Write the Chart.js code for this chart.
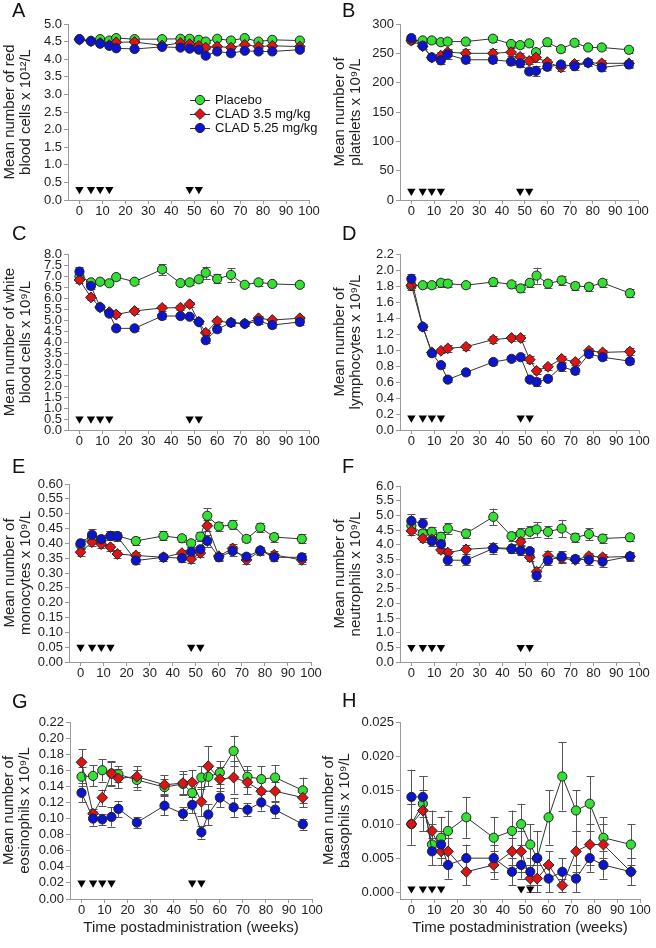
<!DOCTYPE html>
<html>
<head>
<meta charset="utf-8">
<script src="https://cdn.jsdelivr.net/npm/chart.js@4.4.1/dist/chart.umd.min.js"></script>
<style>
  body { margin: 0; background: #fff; }
  #wrap { position: relative; width: 656px; height: 948px; overflow: hidden; font-family: "Liberation Sans", Arial, sans-serif; }
  #wrap canvas { position: absolute; }
  .lbl { position: absolute; font-size: 20px; line-height: 1; color: #111; }
</style>
</head>
<body>
<div id="wrap">
  <canvas id="cA"></canvas><canvas id="cB"></canvas>
  <canvas id="cC"></canvas><canvas id="cD"></canvas>
  <canvas id="cE"></canvas><canvas id="cF"></canvas>
  <canvas id="cG"></canvas><canvas id="cH"></canvas>
  <div class="lbl" style="left:12px;top:0px">A</div>
  <div class="lbl" style="left:342px;top:0px">B</div>
  <div class="lbl" style="left:12px;top:223px">C</div>
  <div class="lbl" style="left:342px;top:223px">D</div>
  <div class="lbl" style="left:12px;top:456px">E</div>
  <div class="lbl" style="left:342px;top:456px">F</div>
  <div class="lbl" style="left:12px;top:691px">G</div>
  <div class="lbl" style="left:342px;top:690px">H</div>
</div>
<script>
// --- DATA ---
const weeks = [0, 5, 9, 13, 16, 24, 36, 44, 48, 52, 55, 60, 66, 72, 78, 84, 96];
const doseWeeks = [0, 5, 9, 13, 48, 52];
const seriesNames = ['Placebo', 'CLAD 3.5 mg/kg', 'CLAD 5.25 mg/kg'];
const xTicks = [0, 10, 20, 30, 40, 50, 60, 70, 80, 90, 100];
const xTitle = 'Time postadministration (weeks)';

// A - red blood cells
const aTicks = [0, 0.5, 1, 1.5, 2, 2.5, 3, 3.5, 4, 4.5, 5];
const aPlacebo = [4.56, 4.52, 4.57, 4.53, 4.60, 4.57, 4.57, 4.58, 4.58, 4.55, 4.50, 4.58, 4.53, 4.60, 4.50, 4.55, 4.53];
const aPlaceboErr = [0.04, 0.03, 0.03, 0.03, 0.04, 0.03, 0.03, 0.04, 0.03, 0.04, 0.04, 0.04, 0.04, 0.04, 0.04, 0.04, 0.04];
const aClad35 = [4.56, 4.51, 4.46, 4.40, 4.48, 4.49, 4.39, 4.46, 4.43, 4.38, 4.33, 4.36, 4.33, 4.41, 4.36, 4.38, 4.36];
const aClad35Err = [0.04, 0.03, 0.03, 0.03, 0.03, 0.03, 0.04, 0.04, 0.04, 0.04, 0.04, 0.04, 0.04, 0.04, 0.04, 0.04, 0.04];
const aClad525 = [4.57, 4.51, 4.44, 4.38, 4.31, 4.29, 4.35, 4.33, 4.30, 4.27, 4.10, 4.22, 4.17, 4.24, 4.22, 4.22, 4.27];
const aClad525Err = [0.04, 0.03, 0.04, 0.03, 0.03, 0.04, 0.04, 0.04, 0.04, 0.04, 0.05, 0.04, 0.04, 0.04, 0.04, 0.04, 0.04];

// B - platelets
const bTicks = [0, 50, 100, 150, 200, 250, 300];
const bPlacebo = [272, 272, 272, 269, 270, 270, 275, 266, 264, 267, 252, 269, 257, 268, 260, 260, 256];
const bPlaceboErr = [4, 4, 4, 4, 4, 5, 5, 5, 5, 5, 6, 6, 5, 5, 5, 5, 5];
const bClad35 = [272, 262, 243, 246, 252, 250, 250, 252, 244, 237, 243, 235, 226, 232, 234, 233, 233];
const bClad35Err = [5, 5, 5, 6, 6, 7, 7, 7, 6, 6, 8, 6, 6, 6, 6, 6, 6];
const bClad525 = [276, 263, 243, 238, 248, 239, 239, 236, 233, 219, 220, 227, 231, 228, 234, 226, 231];
const bClad525Err = [6, 6, 5, 6, 7, 6, 6, 6, 6, 5, 9, 6, 6, 6, 6, 6, 6];

// C - white blood cells
const cTicks = [0, 0.5, 1, 1.5, 2, 2.5, 3, 3.5, 4, 4.5, 5, 5.5, 6, 6.5, 7, 7.5, 8];
const cPlacebo = [6.98, 6.71, 6.74, 6.67, 6.95, 6.74, 7.30, 6.68, 6.71, 6.85, 7.15, 6.87, 7.05, 6.60, 6.71, 6.64, 6.60];
const cPlaceboErr = [0.15, 0.12, 0.12, 0.10, 0.15, 0.12, 0.25, 0.10, 0.12, 0.12, 0.28, 0.20, 0.30, 0.10, 0.15, 0.10, 0.10];
const cClad35 = [6.82, 6.03, 5.58, 5.36, 5.25, 5.41, 5.55, 5.56, 5.72, 4.92, 4.42, 4.95, 4.88, 4.84, 5.08, 5.00, 5.08];
const cClad35Err = [0.12, 0.12, 0.10, 0.10, 0.10, 0.12, 0.12, 0.12, 0.12, 0.10, 0.12, 0.12, 0.12, 0.10, 0.12, 0.10, 0.10];
const cClad525 = [7.20, 6.55, 5.58, 5.29, 4.62, 4.62, 5.18, 5.18, 5.15, 4.91, 4.08, 4.58, 4.88, 4.83, 4.95, 4.77, 4.91];
const cClad525Err = [0.20, 0.12, 0.10, 0.10, 0.10, 0.10, 0.12, 0.10, 0.10, 0.10, 0.12, 0.12, 0.15, 0.12, 0.15, 0.12, 0.12];

// D - lymphocytes
const dTicks = [0, 0.2, 0.4, 0.6, 0.8, 1.0, 1.2, 1.4, 1.6, 1.8, 2.0, 2.2];
const dPlacebo = [1.80, 1.81, 1.81, 1.84, 1.83, 1.81, 1.85, 1.82, 1.77, 1.84, 1.93, 1.83, 1.87, 1.80, 1.79, 1.84, 1.71];
const dPlaceboErr = [0.05, 0.04, 0.04, 0.05, 0.04, 0.04, 0.05, 0.04, 0.05, 0.05, 0.10, 0.05, 0.06, 0.05, 0.05, 0.05, 0.05];
const dClad35 = [1.81, 1.29, 0.97, 0.99, 1.02, 1.04, 1.13, 1.15, 1.15, 0.88, 0.74, 0.79, 0.89, 0.85, 0.99, 0.97, 0.98];
const dClad35Err = [0.04, 0.04, 0.03, 0.03, 0.04, 0.04, 0.04, 0.04, 0.04, 0.04, 0.04, 0.04, 0.04, 0.04, 0.04, 0.03, 0.04];
const dClad525 = [1.89, 1.29, 0.96, 0.81, 0.63, 0.72, 0.85, 0.89, 0.91, 0.63, 0.60, 0.64, 0.79, 0.74, 0.95, 0.91, 0.86];
const dClad525Err = [0.06, 0.04, 0.04, 0.03, 0.03, 0.03, 0.04, 0.03, 0.04, 0.03, 0.05, 0.03, 0.05, 0.04, 0.04, 0.04, 0.04];

// E - monocytes
const eTicks = [0, 0.05, 0.1, 0.15, 0.2, 0.25, 0.3, 0.35, 0.4, 0.45, 0.5, 0.55, 0.6];
const ePlacebo = [0.395, 0.420, 0.410, 0.425, 0.425, 0.408, 0.425, 0.417, 0.400, 0.423, 0.493, 0.457, 0.462, 0.415, 0.453, 0.421, 0.415];
const ePlaceboErr = [0.015, 0.015, 0.012, 0.015, 0.012, 0.015, 0.015, 0.012, 0.012, 0.015, 0.025, 0.015, 0.015, 0.012, 0.015, 0.015, 0.015];
const eClad35 = [0.370, 0.404, 0.397, 0.387, 0.364, 0.359, 0.353, 0.367, 0.347, 0.367, 0.459, 0.357, 0.383, 0.344, 0.374, 0.361, 0.344];
const eClad35Err = [0.012, 0.012, 0.012, 0.012, 0.012, 0.012, 0.012, 0.012, 0.012, 0.012, 0.018, 0.012, 0.015, 0.012, 0.012, 0.012, 0.012];
const eClad525 = [0.400, 0.429, 0.414, 0.425, 0.423, 0.342, 0.353, 0.350, 0.372, 0.380, 0.408, 0.353, 0.374, 0.355, 0.376, 0.353, 0.353];
const eClad525Err = [0.015, 0.018, 0.015, 0.015, 0.015, 0.012, 0.012, 0.012, 0.015, 0.012, 0.02, 0.012, 0.018, 0.012, 0.012, 0.012, 0.015];

// F - neutrophils
const fTicks = [0, 0.5, 1, 1.5, 2, 2.5, 3, 3.5, 4, 4.5, 5, 5.5, 6];
const fPlacebo = [4.65, 4.38, 4.44, 4.27, 4.55, 4.38, 4.95, 4.29, 4.38, 4.44, 4.52, 4.44, 4.55, 4.24, 4.36, 4.21, 4.25];
const fPlaceboErr = [0.20, 0.15, 0.15, 0.15, 0.18, 0.15, 0.28, 0.15, 0.18, 0.20, 0.25, 0.20, 0.30, 0.15, 0.20, 0.15, 0.12];
const fClad35 = [4.47, 4.21, 4.18, 3.82, 3.73, 3.84, 3.90, 3.87, 4.10, 3.57, 3.08, 3.62, 3.53, 3.48, 3.61, 3.57, 3.60];
const fClad35Err = [0.15, 0.12, 0.12, 0.12, 0.12, 0.15, 0.15, 0.15, 0.12, 0.12, 0.15, 0.15, 0.15, 0.12, 0.12, 0.12, 0.12];
const fClad525 = [4.81, 4.72, 4.12, 4.02, 3.47, 3.47, 3.87, 3.85, 3.79, 3.78, 2.94, 3.46, 3.60, 3.51, 3.48, 3.42, 3.60];
const fClad525Err = [0.22, 0.18, 0.15, 0.15, 0.15, 0.15, 0.18, 0.15, 0.15, 0.12, 0.18, 0.15, 0.18, 0.15, 0.18, 0.18, 0.15];

// G - eosinophils
const gTicks = [0, 0.02, 0.04, 0.06, 0.08, 0.1, 0.12, 0.14, 0.16, 0.18, 0.2, 0.22];
const gPlacebo = [0.152, 0.153, 0.160, 0.156, 0.155, 0.148, 0.139, 0.143, 0.132, 0.151, 0.152, 0.157, 0.184, 0.152, 0.149, 0.151, 0.135];
const gPlaceboErr = [0.012, 0.013, 0.014, 0.014, 0.010, 0.012, 0.010, 0.012, 0.013, 0.014, 0.012, 0.014, 0.019, 0.013, 0.016, 0.015, 0.016];
const gClad35 = [0.170, 0.106, 0.126, 0.156, 0.150, 0.152, 0.142, 0.144, 0.145, 0.121, 0.165, 0.149, 0.151, 0.145, 0.134, 0.134, 0.126];
const gClad35Err = [0.016, 0.006, 0.010, 0.015, 0.012, 0.013, 0.012, 0.015, 0.015, 0.018, 0.025, 0.015, 0.020, 0.015, 0.012, 0.012, 0.012];
const gClad525 = [0.132, 0.100, 0.099, 0.102, 0.112, 0.095, 0.116, 0.106, 0.117, 0.083, 0.105, 0.126, 0.114, 0.111, 0.120, 0.111, 0.093];
const gClad525Err = [0.012, 0.009, 0.007, 0.012, 0.010, 0.007, 0.012, 0.008, 0.010, 0.008, 0.013, 0.012, 0.012, 0.008, 0.010, 0.010, 0.007];

// H - basophils
const hTicks = [0, 0.005, 0.01, 0.015, 0.02, 0.025];
const hPlacebo = [0.010, 0.013, 0.007, 0.008, 0.009, 0.011, 0.008, 0.009, 0.010, 0.007, 0.005, 0.011, 0.017, 0.012, 0.013, 0.008, 0.007];
const hPlaceboErr = [0.003, 0.004, 0.003, 0.003, 0.003, 0.003, 0.003, 0.003, 0.003, 0.003, 0.004, 0.004, 0.005, 0.003, 0.004, 0.003, 0.003];
const hClad35 = [0.010, 0.012, 0.009, 0.006, 0.006, 0.003, 0.004, 0.006, 0.006, 0.002, 0.002, 0.004, 0.001, 0.006, 0.007, 0.007, 0.003];
const hClad35Err = [0.003, 0.003, 0.003, 0.002, 0.002, 0.002, 0.002, 0.002, 0.003, 0.002, 0.002, 0.002, 0.001, 0.003, 0.003, 0.003, 0.002];
const hClad525 = [0.014, 0.014, 0.006, 0.007, 0.004, 0.005, 0.005, 0.003, 0.004, 0.003, 0.005, 0.002, 0.003, 0.002, 0.005, 0.004, 0.003];
const hClad525Err = [0.004, 0.003, 0.002, 0.002, 0.002, 0.002, 0.002, 0.002, 0.002, 0.002, 0.004, 0.002, 0.002, 0.002, 0.002, 0.002, 0.002];

// --- STYLE ---
const FONT = '"Liberation Sans", Arial, sans-serif';
Chart.defaults.font.family = FONT;
const markers = [
  { shape: 'circle', r: 4.6, fill: '#35e035' },
  { shape: 'rectRot', r: 5.4, fill: '#e01414' },
  { shape: 'circle', r: 4.6, fill: '#0a14d2' }
];

// error bars drawn under the lines and markers
const errorBars = {
  id: 'errorBars',
  beforeDatasetsDraw(chart) {
    const { ctx, scales: { x, y } } = chart;
    ctx.save();
    ctx.strokeStyle = '#555';
    ctx.lineWidth = 1;
    chart.data.datasets.forEach(ds => {
      if (!ds.errors) return;
      ds.data.forEach((pt, i) => {
        const px = Math.round(x.getPixelForValue(pt.x)) + 0.5;
        const top = y.getPixelForValue(pt.y + ds.errors[i]);
        const bot = y.getPixelForValue(pt.y - ds.errors[i]);
        ctx.beginPath();
        ctx.moveTo(px, top); ctx.lineTo(px, bot);
        ctx.moveTo(px - 4, Math.round(top) + 0.5); ctx.lineTo(px + 4, Math.round(top) + 0.5);
        ctx.moveTo(px - 4, Math.round(bot) + 0.5); ctx.lineTo(px + 4, Math.round(bot) + 0.5);
        ctx.stroke();
      });
    });
    ctx.restore();
  }
};

// legend inside panel A
const insideLegend = {
  id: 'insideLegend',
  afterDraw(chart) {
    const ctx = chart.ctx;
    const x0 = 190, rows = [100, 114, 128];
    ctx.save();
    ctx.font = '13px ' + FONT;
    ctx.textBaseline = 'middle';
    ctx.fillStyle = '#111';
    seriesNames.forEach((name, k) => {
      const yy = rows[k];
      ctx.strokeStyle = '#333';
      ctx.lineWidth = 1;
      ctx.beginPath(); ctx.moveTo(x0, yy + 0.5); ctx.lineTo(x0 + 20, yy + 0.5); ctx.stroke();
      const m = markers[k];
      ctx.beginPath();
      if (m.shape === 'circle') {
        ctx.arc(x0 + 10, yy, m.r, 0, Math.PI * 2);
      } else {
        ctx.moveTo(x0 + 10 - m.r, yy); ctx.lineTo(x0 + 10, yy - m.r);
        ctx.lineTo(x0 + 10 + m.r, yy); ctx.lineTo(x0 + 10, yy + m.r); ctx.closePath();
      }
      ctx.fillStyle = m.fill; ctx.fill();
      ctx.strokeStyle = '#222'; ctx.stroke();
      ctx.fillStyle = '#111';
      ctx.fillText(name, x0 + 25, yy);
    });
    ctx.restore();
  }
};

function drawPanel(id, p) {
  const cv = document.getElementById(id);
  cv.width = p.box.w; cv.height = p.box.h;
  cv.style.left = p.box.x + 'px'; cv.style.top = p.box.y + 'px';
  const yw = p.area.l - p.box.x;
  const pts = vals => weeks.map((w, i) => ({ x: w, y: vals[i] }));

  const datasets = p.series.map((s, k) => ({
    label: seriesNames[k],
    data: pts(s[0]),
    errors: s[1],
    borderColor: '#333', borderWidth: 1,
    pointStyle: markers[k].shape, pointRadius: markers[k].r,
    pointBackgroundColor: markers[k].fill, pointBorderColor: '#222', pointBorderWidth: 1,
    order: 3 - k, tension: 0, clip: false
  }));
  datasets.push({
    label: 'dose', data: doseWeeks.map(w => ({ x: w, y: p.arrowY })),
    showLine: false, pointStyle: 'triangle', pointRotation: 180, pointRadius: 4.8,
    pointBackgroundColor: '#000', pointBorderColor: '#000', pointBorderWidth: 0, order: 0
  });

  const axisGrid = { display: true, drawOnChartArea: false, drawTicks: true, tickLength: 4, color: '#9a9a9a' };
  new Chart(cv, {
    type: 'line',
    data: { datasets },
    plugins: p.legend ? [errorBars, insideLegend] : [errorBars],
    options: {
      responsive: false, animation: false, events: [],
      layout: { padding: { left: 0, right: p.box.x + p.box.w - p.area.r, top: p.area.t - p.box.y, bottom: p.box.y + p.box.h - p.area.b - p.xh } },
      plugins: { legend: { display: false }, tooltip: { enabled: false } },
      scales: {
        x: {
          type: 'linear', min: -5, max: 100,
          afterBuildTicks: s => { s.ticks = xTicks.map(v => ({ value: v })); },
          afterFit: s => { s.height = p.xh; },
          grid: axisGrid, border: { display: true, color: '#9a9a9a', width: 1 },
          ticks: { padding: 0, color: '#222', font: { size: 13 }, maxRotation: 0, autoSkip: false },
          title: { display: !!p.showX, text: xTitle, color: '#222', font: { size: 15, lineHeight: 1.07 }, padding: { top: 0, bottom: 12 } }
        },
        y: {
          type: 'linear', min: p.yMin, max: p.ticks[p.ticks.length - 1],
          afterBuildTicks: s => { s.ticks = p.ticks.map(v => ({ value: v })); },
          afterFit: s => { s.width = yw; },
          grid: axisGrid, border: { display: true, color: '#9a9a9a', width: 1 },
          ticks: { padding: 2, color: '#222', font: { size: 13 }, autoSkip: false, callback: v => Number(v).toFixed(p.dec) },
          title: { display: true, text: p.yTitle, color: '#222', font: { size: 15, lineHeight: 1.07 }, padding: { top: p.tPad, bottom: 0 } }
        }
      }
    }
  });
}

drawPanel('cA', {
  box: { x: 0, y: 0, w: 328, h: 230 }, area: { l: 68, r: 309, t: 24, b: 200 }, xh: 26,
  ticks: aTicks, yMin: 0, dec: 1, arrowY: 0.3, tPad: 2, legend: true,
  yTitle: ['Mean number of red', 'blood cells x 10\u00B9\u00B2/L'],
  series: [[aPlacebo, aPlaceboErr], [aClad35, aClad35Err], [aClad525, aClad525Err]]
});
drawPanel('cB', {
  box: { x: 328, y: 0, w: 328, h: 230 }, area: { l: 400, r: 638, t: 24, b: 200 }, xh: 26,
  ticks: bTicks, yMin: 0, dec: 0, arrowY: 15, tPad: 4,
  yTitle: ['Mean number of', 'platelets x 10\u2079/L'],
  series: [[bPlacebo, bPlaceboErr], [bClad35, bClad35Err], [bClad525, bClad525Err]]
});
drawPanel('cC', {
  box: { x: 0, y: 230, w: 328, h: 230 }, area: { l: 68, r: 309, t: 254, b: 430 }, xh: 26,
  ticks: cTicks, yMin: 0, dec: 1, arrowY: 0.5, tPad: 2,
  yTitle: ['Mean number of white', 'blood cells x 10\u2079/L'],
  series: [[cPlacebo, cPlaceboErr], [cClad35, cClad35Err], [cClad525, cClad525Err]]
});
drawPanel('cD', {
  box: { x: 328, y: 230, w: 328, h: 230 }, area: { l: 400, r: 639, t: 254, b: 430 }, xh: 26,
  ticks: dTicks, yMin: 0, dec: 1, arrowY: 0.15, tPad: 4,
  yTitle: ['Mean number of', 'lymphocytes x 10\u2079/L'],
  series: [[dPlacebo, dPlaceboErr], [dClad35, dClad35Err], [dClad525, dClad525Err]]
});
drawPanel('cE', {
  box: { x: 0, y: 460, w: 328, h: 230 }, area: { l: 69, r: 311, t: 484, b: 662 }, xh: 26,
  ticks: eTicks, yMin: 0, dec: 2, arrowY: 0.05, tPad: 2,
  yTitle: ['Mean number of', 'monocytes x 10\u2079/L'],
  series: [[ePlacebo, ePlaceboErr], [eClad35, eClad35Err], [eClad525, eClad525Err]]
});
drawPanel('cF', {
  box: { x: 328, y: 460, w: 328, h: 230 }, area: { l: 400, r: 639, t: 486, b: 662 }, xh: 26,
  ticks: fTicks, yMin: 0, dec: 1, arrowY: 0.5, tPad: 4,
  yTitle: ['Mean number of', 'neutrophils x 10\u2079/L'],
  series: [[fPlacebo, fPlaceboErr], [fClad35, fClad35Err], [fClad525, fClad525Err]]
});
drawPanel('cG', {
  box: { x: 0, y: 690, w: 328, h: 258 }, area: { l: 70, r: 312, t: 722, b: 899 }, xh: 49, showX: true,
  ticks: gTicks, yMin: 0, dec: 2, arrowY: 0.02, tPad: 1,
  yTitle: ['Mean number of', 'eosinophils x 10\u2079/L'],
  series: [[gPlacebo, gPlaceboErr], [gClad35, gClad35Err], [gClad525, gClad525Err]]
});
drawPanel('cH', {
  box: { x: 318, y: 690, w: 338, h: 258 }, area: { l: 400, r: 640, t: 722, b: 899 }, xh: 49, showX: true,
  ticks: hTicks, yMin: -0.001, dec: 3, arrowY: 0.0005, tPad: 3,
  yTitle: ['Mean number of', 'basophils x 10\u2079/L'],
  series: [[hPlacebo, hPlaceboErr], [hClad35, hClad35Err], [hClad525, hClad525Err]]
});
</script>
</body>
</html>
